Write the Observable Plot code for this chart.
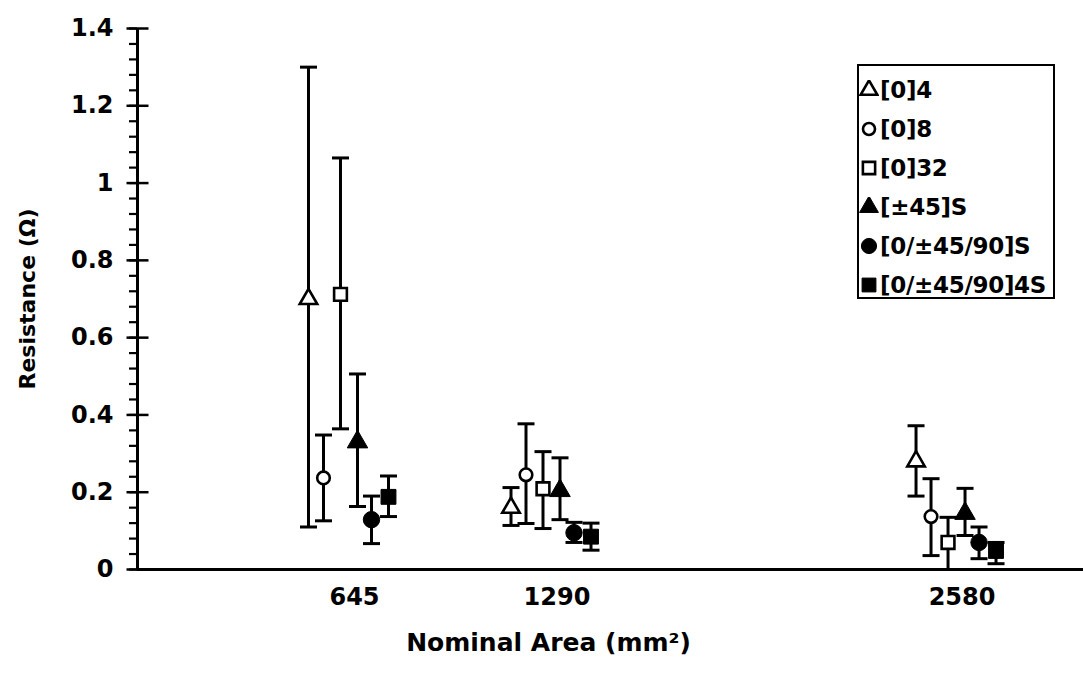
<!DOCTYPE html>
<html><head><meta charset="utf-8">
<script src="https://cdn.jsdelivr.net/npm/d3@7"></script>
<script src="https://cdn.jsdelivr.net/npm/@observablehq/plot@0.6"></script>
<style>
body{margin:0;background:#fff;font-family:"DejaVu Sans",sans-serif;}
#wrap{position:relative;width:1083px;height:681px;}
#legend{position:absolute;left:857px;top:64px;width:198px;height:235px;border:2.5px solid #000;background:#fff;box-sizing:border-box;}
.item{position:absolute;left:0;height:28px;display:flex;align-items:center;font-weight:bold;font-size:23px;color:#000;white-space:nowrap;letter-spacing:-0.3px;}
.item svg{margin-left:0px;margin-right:1px;}
</style></head><body><div id="wrap"></div>
<script>
// ---- data ----
const areas = [645, 1290, 2580];
const areaLabels = ["645", "1290", "2580"];
const seriesNames = ["[0]4", "[0]8", "[0]32", "[±45]S", "[0/±45/90]S", "[0/±45/90]4S"];
const meanValues = [
  [0.70, 0.160, 0.280],
  [0.237, 0.245, 0.137],
  [0.712, 0.209, 0.070],
  [0.330, 0.204, 0.145],
  [0.129, 0.095, 0.070],
  [0.188, 0.085, 0.048]
];
const upperValues = [
  [1.300, 0.212, 0.372],
  [0.348, 0.377, 0.235],
  [1.065, 0.305, 0.135],
  [0.506, 0.289, 0.210],
  [0.190, 0.122, 0.110],
  [0.242, 0.120, 0.070]
];
const lowerValues = [
  [0.110, 0.114, 0.190],
  [0.126, 0.119, 0.036],
  [0.364, 0.106, 0.000],
  [0.163, 0.129, 0.088],
  [0.067, 0.070, 0.028],
  [0.137, 0.050, 0.015]
];
const yTicks = [0, 0.2, 0.4, 0.6, 0.8, 1, 1.2, 1.4];
const yMinorTicks = d3.range(0, 71, 2).map(v => v / 50);

// ---- styles ----
const symbols = ["triangle", "circle", "square", "triangle", "circle", "square"];
const filled = [false, false, false, true, true, true];
const radii = [6.5, 6.3, 7.2, 7.6, 8.2, 8.4];
const seriesDx = [-40, -25, -8, 9, 23, 40];
const font = "DejaVu Sans";

const hline = {draw(ctx, size) { const h = Math.sqrt(size / Math.PI); ctx.moveTo(-h, 0); ctx.lineTo(h, 0); }};

const rows = [];
seriesNames.forEach((s, i) => areas.forEach((a, j) => rows.push({
  series: s, si: i, area: a, mean: meanValues[i][j], hi: upperValues[i][j], lo: lowerValues[i][j]
})));

const xDomain = [-27, 2986];
const marks = [];
// axes
marks.push(Plot.ruleY([0], {stroke: "black", strokeWidth: 3}));
marks.push(Plot.ruleX([xDomain[0]], {stroke: "black", strokeWidth: 3}));
marks.push(Plot.axisY({ticks: yMinorTicks, tickSize: 8, tickFormat: () => "", label: null, strokeWidth: 2.2}));
marks.push(Plot.dot(yTicks, {y: d => d, frameAnchor: "left", symbol: hline, r: 11, stroke: "black", strokeWidth: 2.5, fill: "none"}));
marks.push(Plot.axisY({ticks: yTicks, tickSize: 0, tickPadding: 24, tickFormat: d => String(d), label: null,
  fontSize: 24, fontWeight: "bold", fontFamily: font, fill: "black"}));
marks.push(Plot.axisX({ticks: areas, tickSize: 0, tickPadding: 18, tickFormat: d => areaLabels[areas.indexOf(d)], label: null,
  fontSize: 24, fontWeight: "bold", fontFamily: font, fill: "black", dx: 6}));
marks.push(Plot.text(["Resistance (Ω)"], {frameAnchor: "left", textAnchor: "middle", rotate: -90, dx: -110, fontSize: 22, fontWeight: "bold", fontFamily: font, fill: "black"}));
marks.push(Plot.text(["Nominal Area (mm²)"], {frameAnchor: "bottom", dx: -62, dy: 81, fontSize: 25, fontWeight: "bold", fontFamily: font, fill: "black"}));

// series
seriesNames.forEach((s, i) => {
  const d = rows.filter(r => r.si === i);
  const dx = seriesDx[i];
  marks.push(Plot.ruleX(d, {x: "area", y1: "lo", y2: "hi", dx, stroke: "black", strokeWidth: 3}));
  marks.push(Plot.dot(d, {x: "area", y: "hi", dx, symbol: hline, r: 8.5, stroke: "black", strokeWidth: 3, fill: "none"}));
  marks.push(Plot.dot(d, {x: "area", y: "lo", dx, symbol: hline, r: 8.5, stroke: "black", strokeWidth: 3, fill: "none"}));
  marks.push(Plot.dot(d, {x: "area", y: "mean", dx, symbol: symbols[i], r: radii[i],
    fill: filled[i] ? "black" : "white", stroke: "black", strokeWidth: filled[i] ? 1 : 2.6}));
});

const chart = Plot.plot({
  width: 1083, height: 681,
  marginLeft: 137, marginRight: 0, marginTop: 28, marginBottom: 112,
  style: {background: "white", fontFamily: font, color: "black"},
  x: {type: "linear", domain: xDomain},
  y: {type: "linear", domain: [0, 1.4]},
  marks
});
const wrap = document.getElementById("wrap");
wrap.appendChild(chart);

// legend
const legend = document.createElement("div");
legend.id = "legend";
const symTypes = {triangle: d3.symbolTriangle, circle: d3.symbolCircle, square: d3.symbolSquare};
seriesNames.forEach((s, i) => {
  const item = document.createElement("div");
  item.className = "item";
  item.style.top = (10 + i * 39) + "px";
  const r = filled[i] ? radii[i] - 0.6 : radii[i] - 0.3;
  const path = d3.symbol(symTypes[symbols[i]], Math.PI * r * r)();
  item.innerHTML = `<svg width="20" height="20" viewBox="-10 -10 20 20"><path d="${path}" fill="${filled[i] ? "black" : "white"}" stroke="black" stroke-width="${filled[i] ? 1 : 2.6}"/></svg><span>${s}</span>`;
  legend.appendChild(item);
});
wrap.appendChild(legend);
</script></body></html>
